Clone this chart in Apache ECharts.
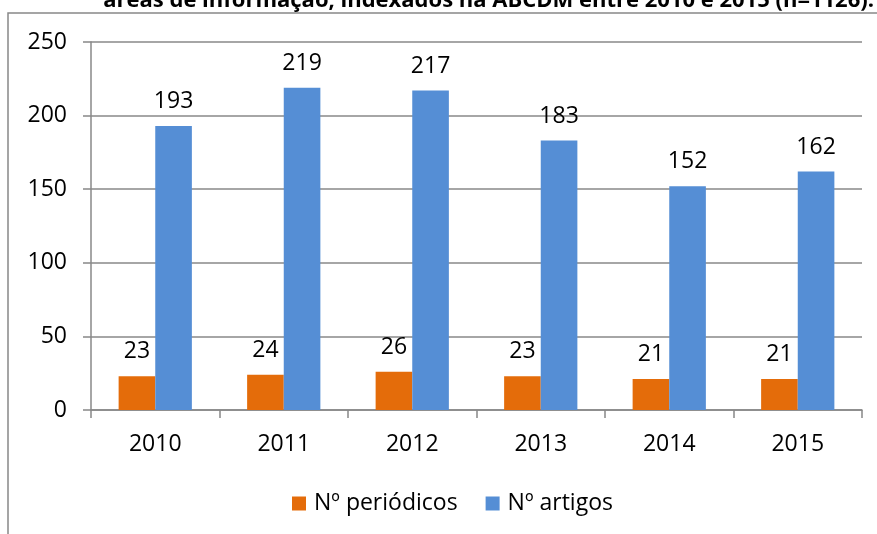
<!DOCTYPE html>
<html><head><meta charset="utf-8">
<script src="https://cdn.jsdelivr.net/npm/echarts@6/dist/echarts.min.js"></script>
<style>html,body{margin:0;padding:0;background:#fff}#c{width:877px;height:534px}</style>
</head><body><div id="c"></div>
<script>
const titleText = 'áreas de informação, indexados na ABCDM entre 2010 e 2015 (n=1126).';
const categories = ['2010','2011','2012','2013','2014','2015'];
const periodicos = [23, 24, 26, 23, 21, 21];
const artigos = [193, 219, 217, 183, 152, 162];
const seriesNames = ['Nº periódicos', 'Nº artigos'];
const yTicks = {min: 0, max: 250, interval: 50};

const FONT = '"Open Sans", "Noto Sans", sans-serif';
const chart = echarts.init(document.getElementById('c'));
chart.setOption({
  animation: false,
  backgroundColor: '#fff',
  grid: {left: 91, right: 15, top: 42, bottom: 124, containLabel: false},
  legend: {
    bottom: 14, left: 287, itemWidth: 14, itemHeight: 14, itemGap: 28,
    icon: 'rect',
    textStyle: {fontFamily: FONT, fontSize: 23, color: '#000', padding: [0, 0, 0, 3]},
    data: seriesNames
  },
  xAxis: {
    type: 'category', data: categories,
    axisLine: {lineStyle: {color: '#888', width: 1.5}},
    axisTick: {show: true, length: 8, lineStyle: {color: '#888', width: 1.5}},
    axisLabel: {fontFamily: FONT, fontSize: 23, color: '#000', margin: 23}
  },
  yAxis: {
    type: 'value', min: yTicks.min, max: yTicks.max, interval: yTicks.interval,
    axisLine: {show: true, lineStyle: {color: '#888', width: 1.5}},
    axisTick: {show: true, length: 8, lineStyle: {color: '#888', width: 1.5}},
    splitLine: {lineStyle: {color: '#888', width: 1.5}},
    axisLabel: {fontFamily: FONT, fontSize: 23, color: '#000', margin: 24}
  },
  series: [
    {name: seriesNames[0], type: 'bar', data: periodicos, barGap: '0%', barCategoryGap: '43%',
     itemStyle: {color: '#E46C0A'},
     label: {show: true, position: 'top', distance: 13, fontFamily: FONT, fontSize: 23, color: '#000'}},
    {name: seriesNames[1], type: 'bar', data: artigos, barGap: '0%', barCategoryGap: '43%',
     itemStyle: {color: '#558ED5'},
     label: {show: true, position: 'top', distance: 13, fontFamily: FONT, fontSize: 23, color: '#000'}}
  ],
  graphic: [
    {type: 'text', right: 3, top: -10, style: {text: titleText, font: 'bold 22px "Open Sans", sans-serif', fill: '#000'}},
    {type: 'polyline', shape: {points: [[8, 534], [8, 13], [877, 13]]}, style: {stroke: '#888', lineWidth: 1.5, fill: null}}
  ]
});
</script></body></html>
